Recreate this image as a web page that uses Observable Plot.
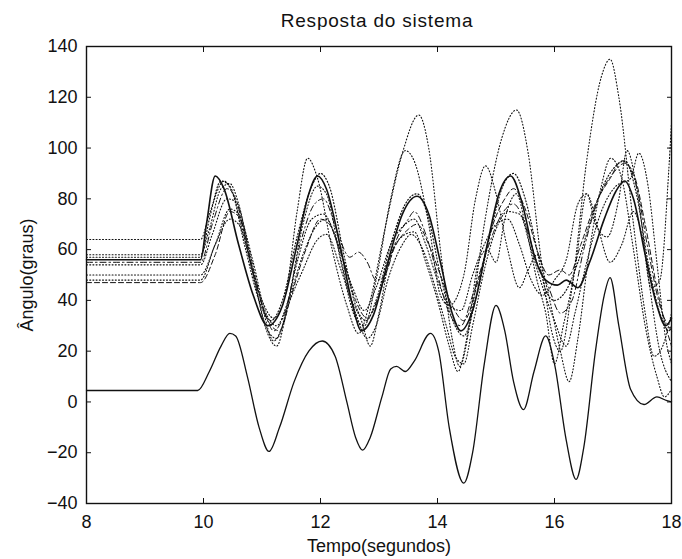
<!DOCTYPE html>
<html><head><meta charset="utf-8">
<script src="https://cdn.jsdelivr.net/npm/d3@7"></script>
<script src="https://cdn.jsdelivr.net/npm/@observablehq/plot@0.6"></script>
<style>
body{margin:0;background:#fff;font-family:"Liberation Sans",Arial,sans-serif;}
#wrap{position:relative;width:682px;height:559px;overflow:hidden;}
#title{position:absolute;left:377px;top:10px;transform:translateX(-50%);font-size:19px;letter-spacing:0.8px;white-space:nowrap;color:#111;}
#chart{position:absolute;left:0;top:30px;}
</style></head><body>
<div id="wrap"><div id="title">Resposta do sistema</div><div id="chart"></div></div>
<script>
const titleText = "Resposta do sistema";
const xLabel = "Tempo(segundos)";
const yLabel = "Ângulo(graus)";
const xTicks = [8, 10, 12, 14, 16, 18];
const yTicks = [-40, -20, 0, 20, 40, 60, 80, 100, 120, 140];

// [tempo, ângulo]
const serieA = [[8,56],[9.95,56],[10.05,70],[10.2,89],[10.35,84],[10.6,62],[10.85,42],[11.1,30],[11.35,38],[11.6,62],[11.8,82],[11.95,89],[12.1,84],[12.35,60],[12.55,38],[12.7,28],[12.9,34],[13.15,55],[13.4,74],[13.65,81],[13.85,74],[14.05,55],[14.25,35],[14.4,28],[14.6,36],[14.85,62],[15.05,82],[15.25,89],[15.45,78],[15.65,58],[15.85,48],[16.05,46],[16.2,48],[16.4,45],[16.6,55],[16.85,72],[17.05,83],[17.2,87],[17.35,80],[17.55,58],[17.75,38],[17.9,30],[18,33]];
const serieB = [[8,64],[9.95,64],[10.1,74],[10.35,87],[10.5,82],[10.75,60],[11.0,40],[11.2,33],[11.4,42],[11.6,75],[11.78,96],[11.95,88],[12.2,60],[12.45,38],[12.65,27],[12.85,40],[13.1,68],[13.4,98],[13.68,113],[13.85,100],[14.05,60],[14.25,25],[14.38,14],[14.55,30],[14.8,70],[15.1,104],[15.35,115],[15.55,98],[15.75,60],[15.95,28],[16.1,20],[16.3,45],[16.55,95],[16.8,128],[16.95,135],[17.1,120],[17.35,70],[17.55,35],[17.7,18],[17.85,22],[18,35]];
const serieC = [[8,58],[9.95,58],[10.1,68],[10.3,84],[10.45,86],[10.6,78],[10.85,50],[11.1,28],[11.25,25],[11.45,40],[11.7,70],[11.95,85],[12.1,82],[12.35,55],[12.6,33],[12.75,30],[12.95,48],[13.2,80],[13.45,99],[13.6,95],[13.85,70],[14.05,42],[14.2,38],[14.45,50],[14.65,80],[14.82,93],[15.0,82],[15.2,60],[15.4,45],[15.55,52],[15.7,58],[15.9,42],[16.1,20],[16.25,8],[16.4,25],[16.6,60],[16.8,85],[16.96,96],[17.15,88],[17.35,60],[17.55,30],[17.75,10],[17.88,2],[18,5]];
const serieD = [[8,55],[9.95,55],[10.15,70],[10.4,84],[10.55,80],[10.8,55],[11.05,35],[11.2,28],[11.4,36],[11.65,62],[11.9,78],[12.05,80],[12.3,66],[12.5,57],[12.65,59],[12.8,55],[12.95,48],[13.1,50],[13.3,64],[13.5,72],[13.6,75],[13.8,66],[14.0,50],[14.2,35],[14.4,30],[14.6,42],[14.85,60],[15.1,74],[15.3,78],[15.5,70],[15.7,55],[15.9,45],[16.1,35],[16.3,40],[16.5,60],[16.75,80],[17.0,90],[17.2,94],[17.4,85],[17.6,60],[17.8,38],[18,28]];
const serieE = [[8,54],[9.95,54],[10.15,66],[10.4,80],[10.55,79],[10.8,58],[11.0,38],[11.2,24],[11.35,30],[11.6,55],[11.85,72],[12.05,74],[12.25,65],[12.5,42],[12.7,32],[12.85,22],[13.0,35],[13.2,58],[13.45,66],[13.6,67],[13.8,55],[14.0,40],[14.2,22],[14.35,12],[14.5,25],[14.7,55],[14.85,60],[15.0,55],[15.15,72],[15.35,82],[15.5,70],[15.7,48],[15.85,35],[16.0,15],[16.15,30],[16.35,52],[16.55,82],[16.7,70],[16.9,65],[17.1,80],[17.24,99],[17.4,85],[17.6,50],[17.8,20],[18,8]];
const serieF = [[8,48],[9.95,48],[10.2,62],[10.45,72],[10.6,70],[10.85,50],[11.05,30],[11.25,22],[11.45,38],[11.7,52],[11.95,64],[12.1,66],[12.35,52],[12.6,35],[12.8,25],[12.95,30],[13.15,48],[13.4,62],[13.55,66],[13.75,60],[14.0,42],[14.15,30],[14.3,18],[14.45,15],[14.6,30],[14.8,52],[15.0,68],[15.2,75],[15.4,74],[15.6,60],[15.8,45],[16.0,32],[16.2,22],[16.35,35],[16.55,55],[16.8,75],[17.05,85],[17.3,88],[17.44,98],[17.6,85],[17.75,55],[17.9,25],[18,15]];
const serieG = [[8,47],[9.95,47],[10.2,58],[10.45,75],[10.6,73],[10.85,52],[11.1,32],[11.3,28],[11.5,42],[11.75,60],[12.0,72],[12.15,70],[12.4,55],[12.6,40],[12.8,33],[13.0,42],[13.25,60],[13.5,68],[13.65,70],[13.85,62],[14.05,50],[14.25,38],[14.45,32],[14.7,48],[14.95,70],[15.15,80],[15.3,84],[15.5,76],[15.7,60],[15.9,50],[16.1,52],[16.25,50],[16.45,62],[16.7,78],[16.95,88],[17.15,95],[17.35,90],[17.55,70],[17.75,45],[17.9,30],[18,22]];
const serieH = [[8,57],[9.95,57],[10.1,72],[10.3,87],[10.45,85],[10.7,62],[10.95,40],[11.15,32],[11.35,40],[11.6,65],[11.85,85],[12.0,90],[12.15,85],[12.4,58],[12.6,38],[12.78,32],[12.95,40],[13.2,62],[13.45,78],[13.65,82],[13.85,72],[14.05,50],[14.3,30],[14.45,26],[14.65,40],[14.9,66],[15.1,84],[15.3,90],[15.5,80],[15.7,60],[15.85,44],[16.0,40],[16.2,44],[16.4,55],[16.6,70],[16.85,86],[17.05,93],[17.2,95],[17.4,82],[17.6,55],[17.8,35],[17.95,28],[18,30]];
const serieI = [[8,50],[9.95,50],[10.2,62],[10.45,76],[10.6,74],[10.85,55],[11.05,36],[11.25,30],[11.45,40],[11.7,58],[11.95,70],[12.1,72],[12.3,62],[12.55,45],[12.75,36],[12.95,45],[13.2,62],[13.45,70],[13.6,72],[13.8,62],[14.0,48],[14.2,38],[14.4,36],[14.6,50],[14.8,62],[15.0,70],[15.2,72],[15.4,62],[15.6,48],[15.8,42],[16.0,48],[16.2,56],[16.4,78],[16.55,82],[16.75,68],[16.95,55],[17.15,62],[17.35,75],[17.5,65],[17.65,45],[17.8,48],[17.95,90],[18,110]];
const serieBaixo = [[8,4.5],[9.9,4.5],[10.1,12],[10.3,22],[10.45,27],[10.55,26],[10.75,10],[10.95,-10],[11.12,-19.5],[11.3,-10],[11.55,8],[11.8,20],[12.03,24],[12.25,18],[12.45,0],[12.6,-14],[12.72,-19],[12.85,-14],[13.05,2],[13.2,13],[13.3,14],[13.45,12],[13.6,16],[13.88,27],[14.02,20],[14.2,-10],[14.45,-32],[14.6,-20],[14.8,15],[15.0,38],[15.15,28],[15.3,8],[15.47,-3],[15.65,12],[15.85,26],[16.0,15],[16.2,-15],[16.37,-30.5],[16.5,-18],[16.7,20],[16.85,42],[16.95,49],[17.1,30],[17.3,5],[17.53,-1],[17.75,2],[17.92,0.5],[18,0]];

const dotted = "1,2.2", dashed = "5,3", dashdot = "6,3,1.5,3";
const lineSpecs = [
  [serieB, dotted, 1.1], [serieC, dotted, 1.1], [serieD, dashdot, 1.0],
  [serieE, dotted, 1.1], [serieF, dotted, 1.1], [serieG, dashed, 1.0],
  [serieH, dotted, 1.2], [serieI, dotted, 1.1],
  [serieA, null, 1.6], [serieBaixo, null, 1.3]
];

const plot = Plot.plot({
  width: 682, height: 529,
  marginTop: 16, marginBottom: 56, marginLeft: 86, marginRight: 11,
  style: {fontFamily: "'Liberation Sans', Arial, sans-serif", fontSize: "18px", color: "#111", background: "#fff"},
  x: {domain: [8, 18]},
  y: {domain: [-40, 140]},
  marks: [
    ...lineSpecs.map(([data, dash, w]) => Plot.line(data, {
      x: d => d[0], y: d => d[1], curve: "monotone-x",
      stroke: "#111", strokeWidth: w, strokeDasharray: dash
    })),
    Plot.frame({stroke: "#111", strokeWidth: 1.4}),
    Plot.axisX({ticks: xTicks, tickSize: -5, tickPadding: 17, label: xLabel, labelAnchor: "center", labelOffset: 48, labelArrow: "none"}),
    Plot.axisX({anchor: "top", ticks: xTicks, tickSize: -5, tickFormat: () => "", label: null}),
    Plot.axisY({ticks: yTicks, tickSize: -5, tickPadding: 14, label: yLabel, labelAnchor: "center", labelOffset: 66, labelArrow: "none"}),
    Plot.axisY({anchor: "right", ticks: yTicks, tickSize: -5, tickFormat: () => "", label: null})
  ]
});
document.getElementById("chart").appendChild(plot);
document.getElementById("title").textContent = titleText;
</script>
</body></html>
